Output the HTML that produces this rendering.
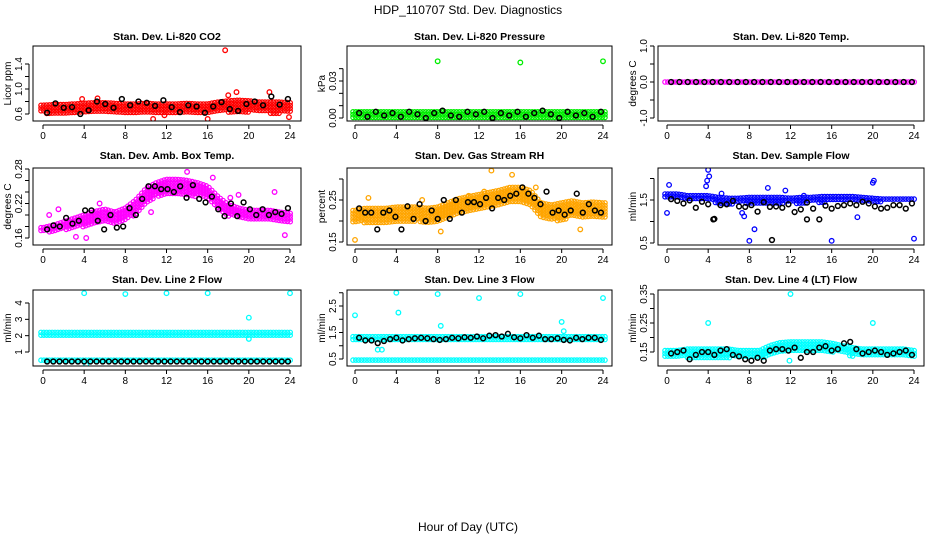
<!DOCTYPE html>
<html><head><meta charset="utf-8"><style>
html,body{margin:0;padding:0;background:#fff;}
svg{display:block;font-family:"Liberation Sans",sans-serif;}
</style></head><body>
<svg id="c" width="936" height="540" xmlns="http://www.w3.org/2000/svg">
<text x="468" y="14" text-anchor="middle" font-size="12">HDP_110707  Std. Dev. Diagnostics</text>
<text x="468" y="531" text-anchor="middle" font-size="12">Hour of Day (UTC)</text>
</svg>
<script>
const hoursX = [0,4,8,12,16,20,24];
const titles = ["Stan. Dev. Li-820 CO2","Stan. Dev. Li-820 Pressure","Stan. Dev. Li-820 Temp.","Stan. Dev. Amb. Box Temp.","Stan. Dev. Gas Stream RH","Stan. Dev. Sample Flow","Stan. Dev. Line 2 Flow","Stan. Dev. Line 3 Flow","Stan. Dev. Line 4 (LT) Flow"];
const yTitles = ["Licor ppm","kPa","degrees C","degrees C","percent","ml/min","ml/min","ml/min","ml/min"];
const colors = ["#ff0000","#00ee00","#ff00ff","#ff00ff","#ffa500","#0000ff","#00ffff","#00ffff","#00ffff"];
const yTicks = [[0.6,0.8,1.0,1.2,1.4],[0,0.01,0.02,0.03,0.04],[-1,-0.5,0,0.5,1],[0.16,0.18,0.20,0.22,0.24,0.26,0.28],[0.15,0.20,0.25,0.30],[0.5,1.0,1.5,2.0],[1,2,3,4],[0.5,1.0,1.5,2.0,2.5,3.0],[0.15,0.20,0.25,0.30,0.35]];
const yLabels = [["0.6","","1.0","","1.4"],["0.00","","","0.03",""],["-1.0","","0.0","","1.0"],["0.16","","","0.22","","","0.28"],["0.15","","0.25",""],["0.5","","1.5",""],["1","2","3","4"],["0.5","","1.5","","2.5",""],["0.15","","0.25","","0.35"]];
const co2Lo = [0.61,0.60,0.61,0.61,0.61,0.62,0.61,0.61,0.61,0.61,0.61,0.61,0.61,0.61,0.61,0.61,0.61,0.62,0.63,0.63,0.63,0.62,0.61,0.61,0.61];
const co2Hi = [0.74,0.75,0.75,0.76,0.77,0.78,0.78,0.77,0.76,0.76,0.77,0.76,0.76,0.76,0.77,0.76,0.76,0.79,0.81,0.82,0.81,0.79,0.79,0.79,0.78];
const presLo = Array(25).fill(0.0);
const presHi = Array(25).fill(0.005);
const tempLo = Array(25).fill(0.0);
const tempHi = Array(25).fill(0.0);
const ambLo = [0.170,0.170,0.174,0.176,0.180,0.184,0.186,0.184,0.190,0.200,0.220,0.232,0.236,0.235,0.234,0.232,0.226,0.210,0.198,0.194,0.190,0.190,0.190,0.186,0.184];
const ambHi = [0.178,0.182,0.188,0.194,0.200,0.206,0.210,0.205,0.212,0.226,0.246,0.256,0.262,0.262,0.260,0.256,0.250,0.232,0.218,0.212,0.208,0.208,0.208,0.205,0.203];
const rhLo = [0.195,0.195,0.195,0.195,0.195,0.195,0.20,0.195,0.195,0.205,0.215,0.222,0.228,0.232,0.237,0.242,0.242,0.236,0.205,0.20,0.20,0.21,0.205,0.205,0.205];
const rhHi = [0.225,0.23,0.23,0.23,0.233,0.233,0.233,0.23,0.233,0.243,0.253,0.258,0.263,0.268,0.273,0.28,0.28,0.272,0.243,0.238,0.243,0.248,0.243,0.245,0.243];
const flowLo = [1.52,1.52,1.50,1.50,1.48,1.42,1.40,1.42,1.42,1.42,1.42,1.42,1.42,1.42,1.44,1.44,1.46,1.46,1.46,1.46,1.46,1.46,1.46,1.46,1.46];
const flowHi = [1.64,1.64,1.60,1.60,1.60,1.56,1.54,1.54,1.56,1.56,1.56,1.56,1.54,1.56,1.56,1.58,1.58,1.58,1.58,1.56,1.54,1.52,1.52,1.52,1.52];
const l2aLo = Array(25).fill(2.02), l2aHi = Array(25).fill(2.2);
const l2bLo = Array(25).fill(0.4), l2bHi = Array(25).fill(0.5);
const l3aLo = Array(25).fill(1.18), l3aHi = Array(25).fill(1.34);
const l3bLo = Array(25).fill(0.36), l3bHi = Array(25).fill(0.46);
const l4Lo = [0.13,0.13,0.13,0.13,0.13,0.13,0.13,0.13,0.13,0.13,0.135,0.145,0.15,0.15,0.15,0.15,0.15,0.145,0.135,0.135,0.135,0.135,0.135,0.135,0.135];
const l4Hi = [0.155,0.155,0.16,0.16,0.16,0.16,0.16,0.155,0.155,0.155,0.172,0.182,0.185,0.185,0.185,0.185,0.18,0.172,0.165,0.16,0.16,0.16,0.16,0.16,0.155];
const co2Black = [0.62,0.77,0.70,0.71,0.60,0.66,0.80,0.76,0.70,0.84,0.74,0.80,0.78,0.73,0.82,0.71,0.63,0.74,0.72,0.62,0.72,0.79,0.68,0.65,0.76,0.80,0.74,0.88,0.75,0.84];
const presBlack = [0.004,0.001,0.005,0.002,0.004,0.001,0.005,0.003,0.000,0.004,0.006,0.002,0.001,0.005,0.003,0.005,0.000,0.004,0.002,0.005,0.001,0.004,0.006,0.003,0.000,0.005,0.002,0.004,0.001,0.005];
const tempBlack = Array(30).fill(0);
const ambBlack = [0.175,0.182,0.180,0.195,0.185,0.190,0.208,0.208,0.190,0.175,0.200,0.178,0.180,0.212,0.200,0.228,0.250,0.250,0.245,0.245,0.240,0.250,0.230,0.252,0.228,0.222,0.232,0.210,0.198,0.220,0.198,0.222,0.210,0.200,0.210,0.200,0.205,0.202,0.212];
const rhBlack = [0.23,0.22,0.22,0.18,0.22,0.225,0.21,0.18,0.235,0.205,0.24,0.20,0.225,0.205,0.25,0.205,0.25,0.22,0.245,0.245,0.24,0.255,0.23,0.255,0.25,0.26,0.265,0.28,0.265,0.255,0.24,0.27,0.22,0.225,0.215,0.225,0.265,0.22,0.24,0.225,0.22];
const flowBlack = [1.52,1.48,1.42,1.49,1.32,1.46,1.40,1.06,1.38,1.40,1.48,1.35,1.34,1.38,1.23,1.45,1.34,1.35,1.32,1.40,1.22,1.28,1.44,1.30,1.05,1.37,1.30,1.36,1.38,1.42,1.38,1.46,1.42,1.35,1.30,1.32,1.38,1.38,1.30,1.42];
const l2Black = Array(40).fill(0.42);
const l3Black = [1.30,1.20,1.20,1.10,1.18,1.25,1.30,1.20,1.25,1.28,1.30,1.28,1.25,1.22,1.25,1.30,1.28,1.32,1.30,1.35,1.28,1.38,1.40,1.35,1.45,1.32,1.28,1.40,1.30,1.38,1.25,1.25,1.28,1.22,1.20,1.30,1.25,1.30,1.30,1.22];
const l4Black = [0.145,0.150,0.155,0.125,0.140,0.150,0.150,0.140,0.155,0.160,0.140,0.135,0.125,0.120,0.130,0.120,0.155,0.160,0.160,0.155,0.165,0.130,0.150,0.150,0.165,0.170,0.155,0.160,0.180,0.185,0.160,0.145,0.150,0.155,0.150,0.140,0.145,0.150,0.155,0.140];
const co2Out = [[17.7,1.62],[18,0.90],[18.8,0.95],[22,0.95],[10.7,0.52],[16,0.52],[23.9,0.55],[11.8,0.58],[3.8,0.84],[5.3,0.85]];
const presOut = [[8,0.046],[16,0.045],[24,0.046]];
const tempOut = [];
const ambOut = [[1.5,0.21],[10.5,0.205],[19,0.235],[22.5,0.24],[23.5,0.165],[3.2,0.162],[4.2,0.160],[0.6,0.20],[5.5,0.22],[18.2,0.23],[16.5,0.265],[14,0.275]];
const rhOut = [[0,0.155],[13.2,0.32],[15.2,0.31],[1.3,0.255],[21.8,0.18],[8.3,0.175],[11,0.26],[12.5,0.27],[17.5,0.28],[6.5,0.25]];
const flowOut = [[0,1.2],[0.2,1.85],[4,2.2],[4.1,2.05],[3.9,1.95],[3.8,1.82],[8,0.55],[8.5,0.82],[16,0.55],[20,1.9],[20.1,1.95],[24,0.6],[7.5,1.12],[18.5,1.1],[7.3,1.2],[9.8,1.78],[11.5,1.72],[13.3,1.6],[5.3,1.65]];
const l2Out = [[4,4.6],[8,4.55],[12,4.6],[16,4.6],[20,3.1],[24,4.6],[20,1.8],[4.2,0.2]];
const l3Out = [[0,2.15],[4,3.0],[4.2,2.25],[8,2.95],[8.3,1.75],[12,2.8],[16,2.95],[20,1.9],[20.2,1.55],[24,2.8],[2.2,0.85],[2.6,0.85]];
const l4Out = [[4,0.25],[12,0.35],[20,0.25],[11.9,0.12]];

const bands = [[[co2Lo,co2Hi]],[[presLo,presHi]],[[tempLo,tempHi]],[[ambLo,ambHi]],[[rhLo,rhHi]],[[flowLo,flowHi]],[[l2aLo,l2aHi],[l2bLo,l2bHi]],[[l3aLo,l3aHi],[l3bLo,l3bHi]],[[l4Lo,l4Hi]]];
const blacks = [co2Black,presBlack,tempBlack,ambBlack,rhBlack,flowBlack,l2Black,l3Black,l4Black];
const outs = [co2Out,presOut,tempOut,ambOut,rhOut,flowOut,l2Out,l3Out,l4Out];

const colBox = [[33,301],[347,612],[658,924]];
const colX = [[43,290],[355,603],[667,914]];
const rowBox = [[46,121],[168,245],[290,366]];
const titleY = [40,159,283];
const yCal = [[0.6,114,1.4,64],[0,118,0.03,81],[-1,118,1,46],[0.16,238,0.28,169],[0.15,242,0.25,200],[0.5,243,1.5,200],[1,352,4,303],[0.5,359,2.5,306],[0.15,352,0.35,294]];

const svg = document.getElementById('c');
const NS = 'http://www.w3.org/2000/svg';
function mk(tag, attrs, parent){const e=document.createElementNS(NS,tag);for(const k in attrs)e.setAttribute(k,attrs[k]);(parent||svg).appendChild(e);return e;}

for(let p=0;p<9;p++){
  const col=p%3,row=Math.floor(p/3);
  const [bx0,bx1]=colBox[col],[by0,by1]=rowBox[row];
  const [ax0,ax1]=colX[col];
  const xs=h=>ax0+(ax1-ax0)*h/24;
  const c=yCal[p];
  const ys=v=>c[1]+(v-c[0])*(c[3]-c[1])/(c[2]-c[0]);
  const g=mk('g',{});
  
  
  const clip=mk('clipPath',{id:'cp'+p},g);
  mk('rect',{x:bx0,y:by0,width:bx1-bx0,height:by1-by0},clip);
  const t=mk('text',{x:(bx0+bx1)/2,y:titleY[row],'text-anchor':'middle','font-size':'10.5','font-weight':'bold'},g);
  t.textContent=titles[p];
  
  
  const yt=mk('text',{x:0,y:0,'text-anchor':'middle','font-size':'10',transform:`translate(${bx0-22},${(by0+by1)/2}) rotate(-90)`},g);
  yt.textContent=yTitles[p];
  
  
  const pg=mk('g',{'clip-path':`url(#cp${p})`},g);
  bands[p].forEach(([lo,hi])=>{
    for(let px=ax0-2;px<=ax1+2;px+=2.8){
      const h=Math.max(0,Math.min(24,(px-ax0)/(ax1-ax0)*24));
      const i=Math.min(23,Math.floor(h)),f=h-i;
      const l=lo[i]+(lo[i+1]-lo[i])*f, u=hi[i]+(hi[i+1]-hi[i])*f;
      const yA=ys(l),yB=ys(u);
      const top=Math.min(yA,yB),bot=Math.max(yA,yB);
      for(let py=top;py<=bot+0.01;py+=2.8){
        const m=mk('circle',{cx:px.toFixed(1),cy:py.toFixed(1),r:2.2,fill:'none',stroke:colors[p],'stroke-width':1.2},pg);
        
        
      }
    }
  });
  outs[p].forEach(([h,v])=>{
    const m=mk('circle',{cx:xs(h),cy:ys(v),r:2.3,fill:'none',stroke:colors[p],'stroke-width':1.3},pg);
    
    
  });
  const bl=blacks[p];
  bl.forEach((v,i)=>{
    const h=0.4+i*(23.4/(bl.length-1));
    const m=mk('circle',{cx:xs(h),cy:ys(v),r:2.4,fill:'none',stroke:'#000','stroke-width':1.5},pg);
    
    
  });
  if(p===5){[[4.5,1.05],[10.2,0.57],[13.6,1.05]].forEach(([h,v])=>{const m=mk('circle',{cx:xs(h),cy:ys(v),r:2.4,fill:'none',stroke:'#000','stroke-width':1.5},pg);});}
  const b=mk('rect',{x:bx0,y:by0,width:bx1-bx0,height:by1-by0,fill:'none',stroke:'#000','stroke-width':1},g);
  
  
  mk('line',{x1:ax0,x2:ax1,y1:by1+4,y2:by1+4,stroke:'#000'},g);
  hoursX.forEach(h=>{
    mk('line',{x1:xs(h),x2:xs(h),y1:by1+4,y2:by1+8,stroke:'#000'},g);
    const tx=mk('text',{x:xs(h),y:by1+18,'text-anchor':'middle','font-size':'10'},g);
    tx.textContent=h;
    
    
  });
  const tk=yTicks[p];
  mk('line',{x1:bx0-4,x2:bx0-4,y1:ys(tk[0]),y2:ys(tk[tk.length-1]),stroke:'#000'},g);
  tk.forEach((v,i)=>{
    const yy=ys(v);
    if(yy<by0-3||yy>by1+3) return;
    mk('line',{x1:bx0-8,x2:bx0-4,y1:yy,y2:yy,stroke:'#000'},g);
    const s=yLabels[p][i];
    if(s){
      const ty=mk('text',{x:0,y:0,'text-anchor':'middle','font-size':'10',transform:`translate(${bx0-11},${yy}) rotate(-90)`},g);
      ty.textContent=s;
      
      
    }
  });
}
</script>
</body></html>
